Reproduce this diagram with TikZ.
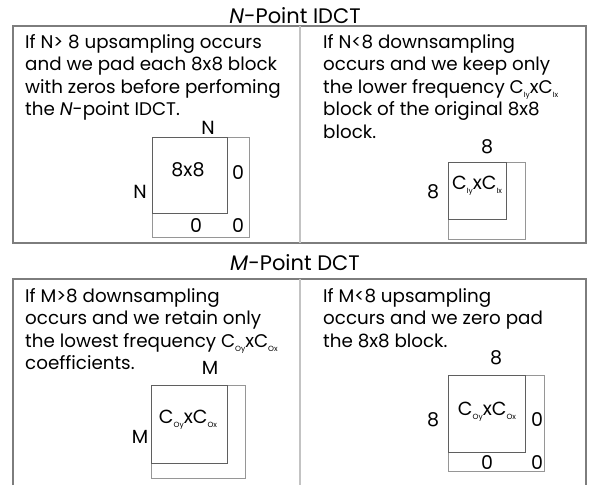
\documentclass[tikz,border=0pt]{standalone}
\usepackage{fontspec}
\setmainfont{Poppins}
\usetikzlibrary{positioning}
\definecolor{framegray}{RGB}{125,125,125}
\definecolor{splitgray}{RGB}{195,195,195}
\definecolor{blockgray}{RGB}{95,95,95}
\definecolor{padgray}{RGB}{150,150,150}
\newcommand{\coef}[1]{C\raisebox{-0.4ex}{\fontsize{7.5}{7.5}\selectfont #1}}

\begin{document}
\begin{tikzpicture}[x=1pt, y=-1pt,
    body/.style={anchor=base west, align=left, inner sep=0pt,
                 font=\fontsize{18.3}{22.5}\selectfont},
    title/.style={anchor=base, inner sep=0pt, font=\fontsize{21}{24}\selectfont},
    lbl/.style={inner sep=0pt, font=\fontsize{19}{22}\selectfont},
    frame/.style={draw=framegray, line width=1.2pt},
    split/.style={draw=splitgray, line width=1.2pt},
    blk/.style={draw=blockgray, line width=0.8pt},
    pad/.style={draw=padgray, line width=0.8pt},
]
\useasboundingbox (0,0) rectangle (589,485);

% N-point IDCT panel
\node[title] (ntitle) at (295,23) {\textit{N}-Point IDCT};
\draw[frame] (13,26) rectangle (586,243);
\draw[split] (300,26) -- (300,243);

% base of a text block = baseline of its last line
\node[body] (nup) at (25,115.5)
    {If N> 8 upsampling occurs\\and we pad each 8x8 block\\with zeros before perfoming\\the \textit{N}-point IDCT.};
\node[body] (ndown) at (323,138)
    {If N<8 downsampling\\occurs and we keep only\\the lower frequency \coef{Iy}x\coef{Ix}\\block of the original 8x8\\block.};

% zero padded 8x8 block
\draw[pad] (152,137) rectangle (249,237);
\draw[blk] (152,137) rectangle (227,213);
\node[lbl] (nblk) at (188,170) {8x8};
\node[lbl] (ntop) at (208,128) {N};
\node[lbl] (nleft) at (140,192) {N};
\node[lbl] (nz1) at (238,173) {0};
\node[lbl] (nz2) at (196,226) {0};
\node[lbl] (nz3) at (238,226) {0};

% kept low frequency block
\draw[pad] (448,162) rectangle (525,239);
\draw[blk] (448,162) rectangle (506,219);
\node[lbl] (dblk) at (477,186) {\coef{Iy}x\coef{Ix}};
\node[lbl] (dtop) at (487,147) {8};
\node[lbl] (dleft) at (433,192) {8};

% M-point DCT panel
\node[title] (mtitle) at (295,270) {\textit{M}-Point DCT};
\draw[frame] (13,485) -- (13,279) -- (586,279) -- (586,485);
\draw[split] (300,279) -- (300,485);

\node[body] (mdown) at (25,369.5)
    {If M>8 downsampling\\occurs and we retain only\\the lowest frequency \coef{Oy}x\coef{Ox}\\coefficients.};
\node[body] (mup) at (323,347)
    {If M<8 upsampling\\occurs and we zero pad\\the 8x8 block.};

% retained coefficient block
\draw[pad] (151,385) rectangle (245,478);
\draw[blk] (151,385) rectangle (227,463);
\node[lbl] (rblk) at (188,420) {\coef{Oy}x\coef{Ox}};
\node[lbl] (rtop) at (210,368) {M};
\node[lbl] (rleft) at (140,437) {M};

% zero padded coefficient block
\draw[pad] (448,375) rectangle (544,471);
\draw[blk] (448,375) rectangle (525,452);
\node[lbl] (zblk) at (487,412) {\coef{Oy}x\coef{Ox}};
\node[lbl] (ztop) at (496,358) {8};
\node[lbl] (zleft) at (433,420) {8};
\node[lbl] (zz1) at (537,420) {0};
\node[lbl] (zz2) at (487,463) {0};
\node[lbl] (zz3) at (537,463) {0};

\end{tikzpicture}
\end{document}
